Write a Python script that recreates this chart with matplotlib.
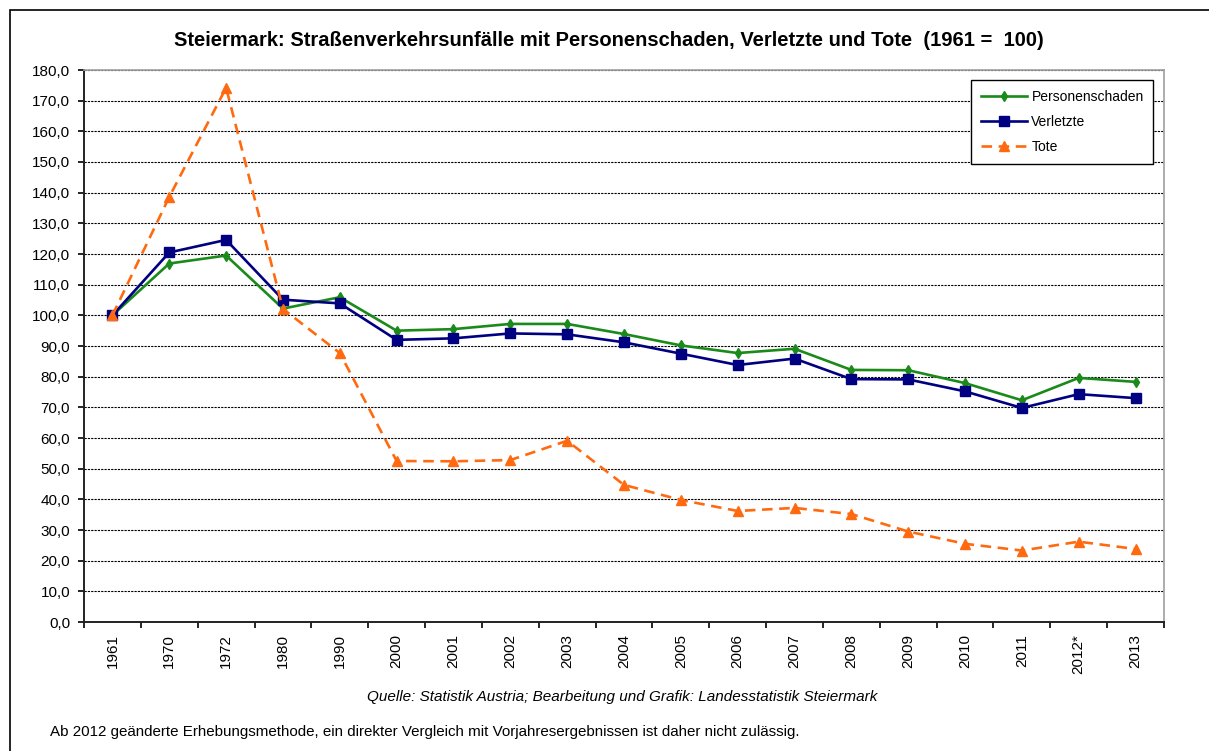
import numpy as np
import matplotlib.pyplot as plt
from matplotlib.patches import Rectangle
from matplotlib.ticker import FuncFormatter, FixedLocator

plt.rcParams['font.family'] = ['Liberation Sans', 'DejaVu Sans']

years = ['1961', '1970', '1972', '1980', '1990', '2000', '2001', '2002', '2003', '2004',
         '2005', '2006', '2007', '2008', '2009', '2010', '2011', '2012*', '2013']

personenschaden = [100.0, 116.9, 119.5, 102.2, 105.9, 95.0, 95.5, 97.2, 97.2, 93.9,
                   90.2, 87.7, 89.1, 82.2, 82.1, 77.9, 72.3, 79.6, 78.3]
verletzte = [100.0, 120.5, 124.6, 105.1, 103.9, 92.0, 92.5, 94.1, 93.8, 91.2,
             87.5, 83.8, 85.9, 79.2, 79.1, 75.2, 69.8, 74.3, 73.0]
tote = [100.0, 138.6, 174.2, 102.1, 87.7, 52.5, 52.4, 52.8, 59.1, 44.7,
        39.8, 36.2, 37.2, 35.2, 29.5, 25.5, 23.3, 26.2, 23.8]

title = 'Steiermark: Straßenverkehrsunfälle mit Personenschaden, Verletzte und Tote  (1961 =  100)'
source = 'Quelle: Statistik Austria; Bearbeitung und Grafik: Landesstatistik Steiermark'
note = 'Ab 2012 geänderte Erhebungsmethode, ein direkter Vergleich mit Vorjahresergebnissen ist daher nicht zulässig.'

W, H = 1209, 751
fig = plt.figure(figsize=(W / 100, H / 100), dpi=100)
ax = fig.add_axes([84 / W, 1 - 622 / H, (1164 - 84) / W, (622 - 70) / H])

x = np.arange(len(years))
ax.plot(x, personenschaden, color='#1a8a1a', lw=1.9, marker='d', ms=5, label='Personenschaden')
ax.plot(x, verletzte, color='#000080', lw=1.9, marker='s', ms=6.5, label='Verletzte')
ax.plot(x, tote, color='#ff6a10', lw=1.9, ls=(0, (4, 2.5)), marker='^', ms=7, label='Tote')

ax.set_xlim(-0.5, len(years) - 0.5)
ax.set_ylim(0, 180)
ax.set_yticks(np.arange(0, 181, 10))
ax.yaxis.set_major_formatter(FuncFormatter(lambda v, p: f'{v:.1f}'.replace('.', ',')))
ax.yaxis.grid(True, color='black', lw=0.8, ls=(0, (2, 1)))
ax.set_axisbelow(True)

ax.set_xticks(x)
ax.set_xticklabels(years, rotation=90)
ax.xaxis.set_minor_locator(FixedLocator(np.arange(-0.5, len(years), 1.0)))
ax.tick_params(axis='x', which='major', length=0, pad=9, labelsize=11)
ax.tick_params(axis='x', which='minor', length=4, width=1.2, direction='out')
ax.tick_params(axis='y', length=4, width=1.2, direction='out', labelsize=11, pad=6)

for s in ['left', 'bottom']:
    ax.spines[s].set_color('#222222')
    ax.spines[s].set_linewidth(1.4)
for s in ['top', 'right']:
    ax.spines[s].set_color('#a0a0a0')
    ax.spines[s].set_linewidth(1.2)

leg = ax.legend(loc='upper left', bbox_to_anchor=(971 / W, 1 - 80 / H), bbox_transform=fig.transFigure,
                fontsize=10, handlelength=3.3, labelspacing=0.8, borderpad=0.7,
                fancybox=False, edgecolor='black', framealpha=1, borderaxespad=0, handletextpad=0.35)
leg.get_frame().set_linewidth(1.0)

fig.text(609 / W, 1 - 40 / H, title, ha='center', va='center', fontsize=14.5, fontweight='bold')
fig.text(622 / W, 1 - 697 / H, source, ha='center', va='center', fontsize=11, style='italic')
fig.text(50 / W, 1 - 732 / H, note, ha='left', va='center', fontsize=10.9)

fig.patches.append(Rectangle((10 / W, -0.1), 1.2, 1.1 - 10 / H, transform=fig.transFigure,
                             fill=False, edgecolor='black', lw=1.2))

fig.savefig('out.png', dpi=100)
